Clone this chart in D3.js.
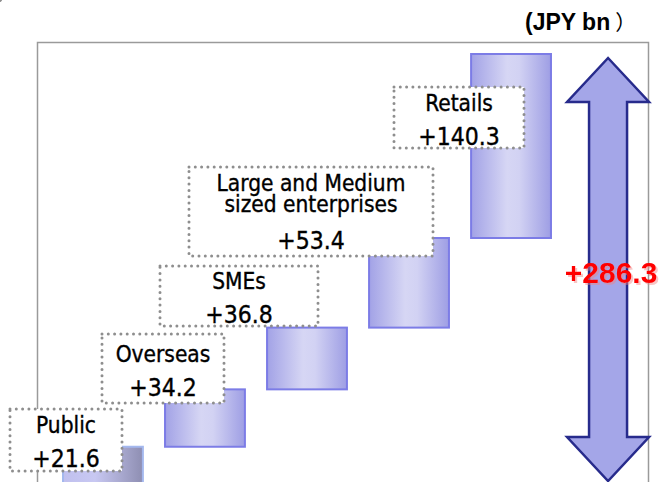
<!DOCTYPE html>
<html>
<head>
<meta charset="utf-8">
<script src="https://cdn.jsdelivr.net/npm/d3@7/dist/d3.min.js"></script>
<style>
  body { margin: 0; background: #fff; }
  svg { display: block; }
  .dots { fill: none; stroke: #8e8e8e; stroke-width: 3; stroke-dasharray: 0 6.3; stroke-linecap: round; }
  .name, .num { font-family: "DejaVu Sans Condensed", "DejaVu Sans", sans-serif; font-stretch: condensed; fill: #000; stroke: #000; stroke-width: 0.35; }
  .name { font-size: 22.5px; }
  .num { font-size: 24.5px; }
</style>
</head>
<body>
<div id="chart"></div>
<script>
// increase by segment (JPY bn)
var categories = ['Public', 'Overseas', 'SMEs', 'Large and Medium sized enterprises', 'Retails'];
var nameLines = [['Public'], ['Overseas'], ['SMEs'], ['Large and Medium', 'sized enterprises'], ['Retails']];
var increments = [21.6, 34.2, 36.8, 53.4, 140.3];
var unitLabel = '(JPY bn';
var unitClose = '\uFF09';

// where the dotted label boxes sit (annotation layout, not data)
var labelBoxes = [
  { x: 10, y: 409, w: 112, h: 62 },
  { x: 102, y: 334, w: 122, h: 69 },
  { x: 160, y: 266, w: 158, h: 60 },
  { x: 189, y: 167, w: 244, h: 89 },
  { x: 394, y: 87, w: 130, h: 61 }
];

var width = 661,
  height = 482;

var total = d3.sum(increments);
var ends = d3.cumsum(increments);
var starts = ends.map(function (d, i) { return d - increments[i]; });

var svg = d3.select('#chart').append('svg')
  .attr('width', width)
  .attr('height', height);

var defs = svg.append('defs');

function gradient(id, stops) {
  var g = defs.append('linearGradient').attr('id', id)
    .attr('x1', '0%').attr('x2', '100%').attr('y1', '0%').attr('y2', '0%');
  stops.forEach(function (s) {
    g.append('stop').attr('offset', s[0]).attr('stop-color', s[1]);
  });
}
gradient('barFill', [['0%', '#a2a2e6'], ['45%', '#d6d6f4'], ['60%', '#d2d2f3'], ['100%', '#9e9ee4']]);
gradient('firstFill', [['0%', '#c0c0ee'], ['40%', '#c8c8f2'], ['100%', '#8e8eb2']]);

defs.append('filter').attr('id', 'shadow')
  .attr('x', '-10%').attr('y', '-20%').attr('width', '130%').attr('height', '150%')
  .append('feDropShadow')
  .attr('dx', 2).attr('dy', 2)
  .attr('stdDeviation', 0.6)
  .attr('flood-color', '#f08080')
  .attr('flood-opacity', 0.45);

var x = d3.scaleBand()
  .domain(categories.concat(['Total']))
  .range([63, 653])
  .paddingInner(0.217);

// upper part is compressed in the original slide
var y = d3.scaleLinear()
  .domain([0, ends[3], total])
  .range([483, 238, 54]);

// frame
svg.append('rect')
  .attr('x', 37.5).attr('y', 42.5)
  .attr('width', 611).attr('height', 460)
  .attr('fill', 'none')
  .attr('stroke', '#9a9a9a')
  .attr('stroke-width', 1.5);

// unit
var unit = svg.append('text')
  .attr('x', 525).attr('y', 30)
  .style('font-family', '"Liberation Sans", Arial, sans-serif')
  .style('font-weight', 'bold')
  .style('font-size', '23px')
  .text(unitLabel);
unit.append('tspan')
  .attr('dx', 5)
  .style('font-family', '"Noto Sans CJK JP", sans-serif')
  .style('font-weight', 'normal')
  .style('font-size', '21px')
  .text(unitClose);

// connectors between steps
var connectors = ends.map(function (d, i) {
  var nextX = i < categories.length - 1 ? x(categories[i + 1]) : 646;
  return { x1: x(categories[i]) + x.bandwidth(), x2: nextX, y: y(d) };
});
svg.selectAll('.conn')
  .data(connectors)
  .enter().append('line')
  .attr('class', 'dots conn')
  .attr('x1', function (d) { return d.x1 + 4; })
  .attr('x2', function (d) { return d.x2 - 2; })
  .attr('y1', function (d) { return d.y; })
  .attr('y2', function (d) { return d.y; });

// bars
svg.selectAll('.bar')
  .data(increments)
  .enter().append('rect')
  .attr('class', 'bar')
  .attr('x', function (d, i) { return x(categories[i]); })
  .attr('width', x.bandwidth())
  .attr('y', function (d, i) { return y(ends[i]); })
  .attr('height', function (d, i) { return y(starts[i]) - y(ends[i]); })
  .attr('fill', function (d, i) { return i === 0 ? 'url(#firstFill)' : 'url(#barFill)'; })
  .attr('stroke', function (d, i) { return i === 0 ? '#a4b8ee' : '#7c7ce6'; })
  .attr('stroke-width', 2);

// label boxes
var labels = svg.selectAll('.label')
  .data(labelBoxes)
  .enter().append('g')
  .attr('class', 'label');

labels.append('rect')
  .attr('x', function (d) { return d.x; })
  .attr('y', function (d) { return d.y; })
  .attr('width', function (d) { return d.w; })
  .attr('height', function (d) { return d.h; })
  .attr('fill', '#fff');
labels.append('rect')
  .attr('class', 'dots')
  .attr('x', function (d) { return d.x; })
  .attr('y', function (d) { return d.y; })
  .attr('width', function (d) { return d.w; })
  .attr('height', function (d) { return d.h; });

labels.each(function (d, i) {
  var g = d3.select(this),
    cx = d.x + d.w / 2,
    lines = nameLines[i],
    // text block: names 21px apart, number 34px under the last name
    span = (lines.length - 1) * 21 + 34 + 16,
    first = d.y + d.h / 2 - span / 2 + 16 + 2;
  var name = g.append('text')
    .attr('class', 'name')
    .attr('text-anchor', 'middle');
  lines.forEach(function (line, j) {
    name.append('tspan')
      .attr('x', cx)
      .attr('y', first + j * 21 - (lines.length > 1 ? 3 : 0))
      .text(line);
  });
  g.append('text')
    .attr('class', 'num')
    .attr('x', cx)
    .attr('y', first + (lines.length - 1) * 21 + 34)
    .attr('text-anchor', 'middle')
    .text('+' + d3.format('.1f')(increments[i]));
});

// double arrow for the total
var ax = x('Total') + x.bandwidth() / 2 - 5,
  arrowTop = y(total) + 4,
  arrowBottom = y(0) - 2,
  shaft = 19,
  head = 41,
  headLen = 44;
var arrow = d3.path();
arrow.moveTo(ax, arrowTop);
arrow.lineTo(ax + head, arrowTop + headLen);
arrow.lineTo(ax + shaft, arrowTop + headLen);
arrow.lineTo(ax + shaft, arrowBottom - headLen);
arrow.lineTo(ax + head, arrowBottom - headLen);
arrow.lineTo(ax, arrowBottom);
arrow.lineTo(ax - head, arrowBottom - headLen);
arrow.lineTo(ax - shaft, arrowBottom - headLen);
arrow.lineTo(ax - shaft, arrowTop + headLen);
arrow.lineTo(ax - head, arrowTop + headLen);
arrow.closePath();
svg.append('path')
  .attr('d', arrow.toString())
  .attr('fill', '#a4a6e8')
  .attr('stroke', '#272b8c')
  .attr('stroke-width', 2.5)
  .attr('stroke-linejoin', 'miter');

svg.append('text')
  .attr('x', ax + 3).attr('y', 283)
  .attr('text-anchor', 'middle')
  .attr('filter', 'url(#shadow)')
  .style('font-family', '"Liberation Sans", Arial, sans-serif')
  .style('font-weight', 'bold')
  .style('font-size', '30px')
  .attr('fill', '#ff0000')
  .text('+' + d3.format('.1f')(total));
</script>
</body>
</html>
